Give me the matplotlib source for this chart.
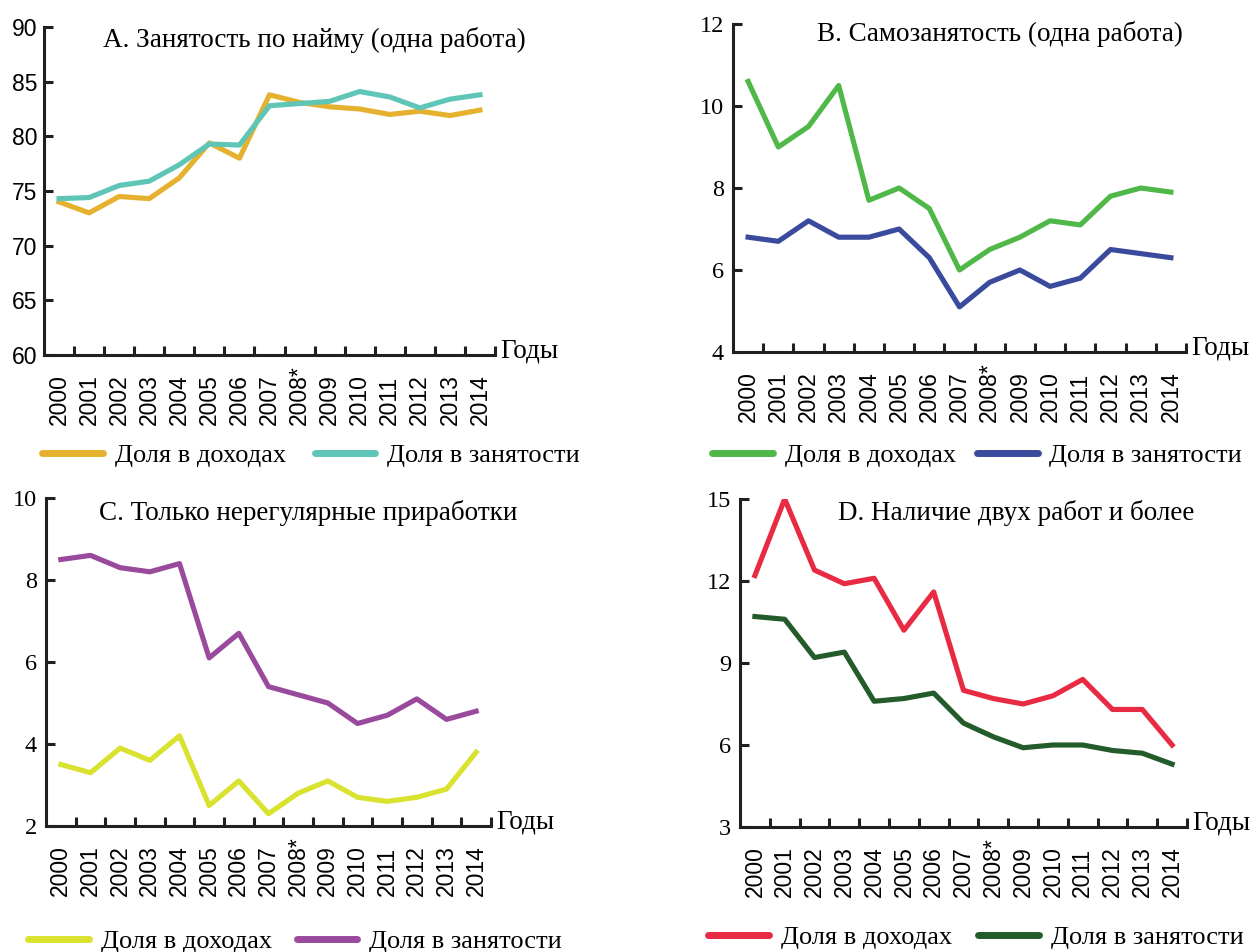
import matplotlib
matplotlib.use("Agg")
import matplotlib.pyplot as plt

SERIF = ["Liberation Serif", "DejaVu Serif"]
SANS = ["Liberation Sans", "DejaVu Sans"]

years = ["2000", "2001", "2002", "2003", "2004", "2005", "2006", "2007",
         "2008*", "2009", "2010", "2011", "2012", "2013", "2014"]
legend_labels = ["Доля в доходах", "Доля в занятости"]

# A. wage employment, one job
a_income = [74.0, 73.0, 74.5, 74.3, 76.2, 79.4, 78.0, 83.8, 83.1, 82.7, 82.5, 82.0, 82.3, 81.9, 82.4]
a_employ = [74.3, 74.4, 75.5, 75.9, 77.4, 79.3, 79.2, 82.8, 83.0, 83.2, 84.1, 83.6, 82.6, 83.4, 83.8]
# B. self-employment, one job
b_income = [10.6, 9.0, 9.5, 10.5, 7.7, 8.0, 7.5, 6.0, 6.5, 6.8, 7.2, 7.1, 7.8, 8.0, 7.9]
b_employ = [6.8, 6.7, 7.2, 6.8, 6.8, 7.0, 6.3, 5.1, 5.7, 6.0, 5.6, 5.8, 6.5, 6.4, 6.3]
# C. irregular side jobs only
c_income = [3.5, 3.3, 3.9, 3.6, 4.2, 2.5, 3.1, 2.3, 2.8, 3.1, 2.7, 2.6, 2.7, 2.9, 3.8]
c_employ = [8.5, 8.6, 8.3, 8.2, 8.4, 6.1, 6.7, 5.4, 5.2, 5.0, 4.5, 4.7, 5.1, 4.6, 4.8]
# D. two or more jobs
d_income = [12.2, 15.0, 12.4, 11.9, 12.1, 10.2, 11.6, 8.0, 7.7, 7.5, 7.8, 8.4, 7.3, 7.3, 6.0]
d_employ = [10.7, 10.6, 9.2, 9.4, 7.6, 7.7, 7.9, 6.8, 6.3, 5.9, 6.0, 6.0, 5.8, 5.7, 5.3]

W, H = 1250, 952
DPI = 100
fig = plt.figure(figsize=(12.5, 9.52), dpi=DPI)
INK = "#231f20"


def px_axes(left, top, right, bottom):
    return fig.add_axes([left / W, 1 - bottom / H, (right - left) / W, (bottom - top) / H])


def draw_panel(box, title, title_xy, income, employ, colors, yticks, ylabel_font, legend_pos):
    ax = px_axes(*box)
    x = list(range(len(years)))
    ax.plot(x, income, color=colors[0], lw=3.7, label=legend_labels[0])
    ax.plot(x, employ, color=colors[1], lw=3.7, label=legend_labels[1])
    ax.set_xlim(-0.5, len(years) - 0.5)
    ax.set_ylim(yticks[0], yticks[-1])
    for s in ["top", "right"]:
        ax.spines[s].set_visible(False)
    for s in ["left", "bottom"]:
        ax.spines[s].set_linewidth(2.2)
        ax.spines[s].set_color(INK)
        ax.spines[s].set_capstyle("projecting")
    ax.set_yticks(yticks)
    ax.set_yticklabels([str(v) for v in yticks], family=ylabel_font[0], fontsize=ylabel_font[1])
    ax.tick_params(axis="y", direction="in", length=6.5, width=2.2, pad=ylabel_font[2], color=INK)
    ax.set_xticks(x)
    ax.set_xticklabels([])
    ax.tick_params(axis="x", which="major", length=0)
    ax.set_xticks([i + 0.5 for i in x], minor=True)
    ax.tick_params(axis="x", which="minor", direction="in", length=6.5, width=2.2, color=INK)
    # year labels, rotated and aligned at their start
    for i, lab in enumerate(years):
        ax.annotate(lab, xy=(i, 0), xycoords=ax.get_xaxis_transform(),
                    xytext=(0, -70 * 72 / DPI), textcoords="offset points",
                    rotation=90, ha="center", va="bottom", family=SANS, fontsize=16.5)
    ax.annotate("Годы", xy=(1, 0), xycoords="axes fraction", xytext=(4, -2),
                textcoords="offset points", family=SERIF, fontsize=19.5,
                ha="left", va="baseline")
    ax.text(title_xy[0], title_xy[1], title, transform=ax.transAxes, family=SERIF,
            fontsize=19.5, ha="center", va="center")
    ax.legend(loc="center left", bbox_to_anchor=(legend_pos[0] / W, 1 - legend_pos[1] / H),
              bbox_transform=fig.transFigure, ncol=2, frameon=False,
              prop={"family": SERIF, "size": 19}, handlelength=2.3, handletextpad=0.45,
              columnspacing=legend_pos[2], borderaxespad=0, borderpad=0)
    for line in ax.get_legend().get_lines():
        line.set_linewidth(5)
        line.set_solid_capstyle("round")
    return ax


draw_panel((44, 27, 495, 355), "A. Занятость по найму (одна работа)", (0.60, 0.96),
           a_income, a_employ, ("#e6b12e", "#5ec5b7"),
           [60, 65, 70, 75, 80, 85, 90], (SANS, 16.5, 5), (42, 455, 1.1))
draw_panel((733, 24, 1186, 352), "B. Самозанятость (одна работа)", (0.59, 0.97),
           b_income, b_employ, ("#4fb848", "#3a4a9d"),
           [4, 6, 8, 10, 12], (SERIF, 17.5, 6.5), (712, 455, 0.8))
draw_panel((46, 498, 491, 826), "C. Только нерегулярные приработки", (0.59, 0.955),
           c_income, c_employ, ("#d9e22e", "#9a4a9c"),
           [2, 4, 6, 8, 10], (SERIF, 17.5, 6.5), (28, 941, 0.95))
draw_panel((740, 499, 1187, 827), "D. Наличие двух работ и более", (0.617, 0.957),
           d_income, d_employ, ("#e82a43", "#245b2a"),
           [3, 6, 9, 12, 15], (SERIF, 17.5, 6.5), (708, 937, 1.0))

fig.savefig("out.png", dpi=DPI)
